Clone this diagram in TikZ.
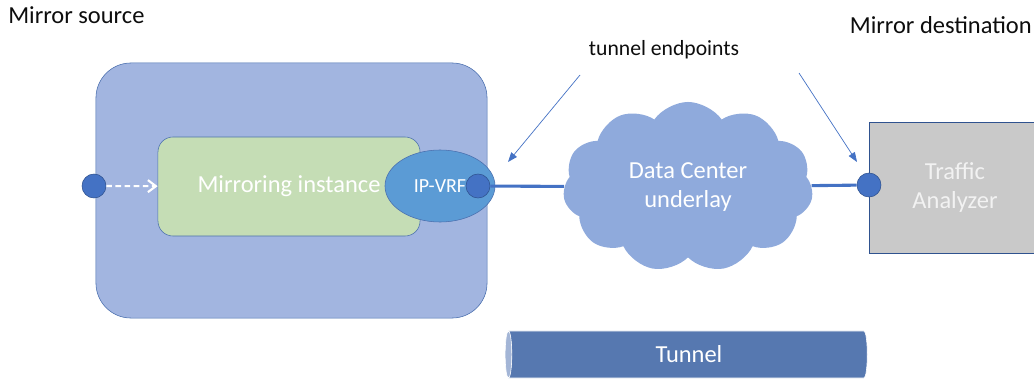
\documentclass[tikz,border=0pt]{standalone}
\usepackage{fontspec}
\setmainfont{Carlito}
\usetikzlibrary{shapes.geometric,shapes.symbols,arrows.meta}
\definecolor{hostblue}{HTML}{A2B5E0}
\definecolor{instgreen}{HTML}{C5DDB5}
\definecolor{vrfblue}{HTML}{5B9BD5}
\definecolor{dotblue}{HTML}{4472C4}
\definecolor{edgeblue}{HTML}{4A6FAE}
\definecolor{darkblue}{HTML}{2F528F}
\definecolor{cloudblue}{HTML}{8FAADC}
\definecolor{boxgray}{HTML}{C9C9C9}
\definecolor{tunnelblue}{HTML}{5678B0}
\definecolor{tunnelend}{HTML}{A3B5D6}
\definecolor{labelblack}{HTML}{0D0D0D}
\begin{document}
\begin{tikzpicture}[x=0.025cm, y=-0.025cm,
  every node/.style={font=\fontsize{17.4}{21}\selectfont},
  port node/.style={circle,draw=darkblue,fill=dotblue,minimum size=0.6cm,inner sep=0pt},
  link/.style={draw=dotblue,line width=2.2pt},
  pointer/.style={draw=dotblue,line width=0.5pt,-{Triangle[length=2.4mm,width=1.8mm]}}]
\path[use as bounding box, clip] (0,0) rectangle (1034,381);
% mirror source side
\node[draw=edgeblue, fill=hostblue, rounded corners=0.875cm, minimum width=9.775cm, minimum height=6.375cm] (host) at (291.5,190.5) {};
\node[draw=edgeblue, fill=instgreen, rounded corners=0.375cm, minimum width=6.55cm, minimum height=2.475cm, text=white] (inst) at (289,186.5) {Mirroring instance};
\node[ellipse, draw=edgeblue, fill=vrfblue, minimum width=2.75cm, minimum height=1.8cm, text=white, font=\fontsize{14.2}{17}\selectfont] (vrf) at (440,186) {IP-VRF};
\node[port node] (in) at (94,186) {};
\node[port node] (vrfend) at (478,186) {};
% underlay and destination
\node[cloud, cloud puffs=11, cloud puff arc=110, cloud ignores aspect, fill=cloudblue, minimum width=6.25cm, minimum height=4.25cm, align=center, text=white] (underlay) at (688,187) {Data Center\\underlay};
\node[draw=darkblue, fill=boxgray, minimum width=4.3cm, minimum height=3.275cm, align=center, text=white!95!black] (analyzer) at (955,187.5) {Traffic\\Analyzer};
\node[port node] (dest) at (869,185) {};
\node[cylinder, shape border rotate=180, aspect=0.25, cylinder uses custom fill, cylinder body fill=tunnelblue, cylinder end fill=tunnelend, draw=white, minimum width=1.175cm, minimum height=9.05cm, text=white] (tunnel) at (689,354.5) {Tunnel};
% labels
\begin{scope}[every node/.append style={text=labelblack, inner sep=0pt}]
\node[anchor=west] (src) at (8,15) {Mirror source};
\node[anchor=east] (dst) at (1032,25) {Mirror destination};
\node[font=\fontsize{15.4}{18}\selectfont] (ends) at (664,50) {tunnel endpoints};
\end{scope}
\coordinate (pl) at (580,75);
\coordinate (pr) at (799,73);
\coordinate (tl) at (508,162);
\coordinate (tr) at (857,162);
\begin{scope}
\draw[white, line width=1.5pt, dash pattern=on 4pt off 2.5pt, -{Straight Barb[length=2mm,width=3mm]}] (in) -- (inst);
\draw[link] (vrfend) -- (underlay);
\draw[link] (underlay) -- (dest);
\draw[pointer] (pl) -- (tl);
\draw[pointer] (pr) -- (tr);
\end{scope}
\end{tikzpicture}
\end{document}
